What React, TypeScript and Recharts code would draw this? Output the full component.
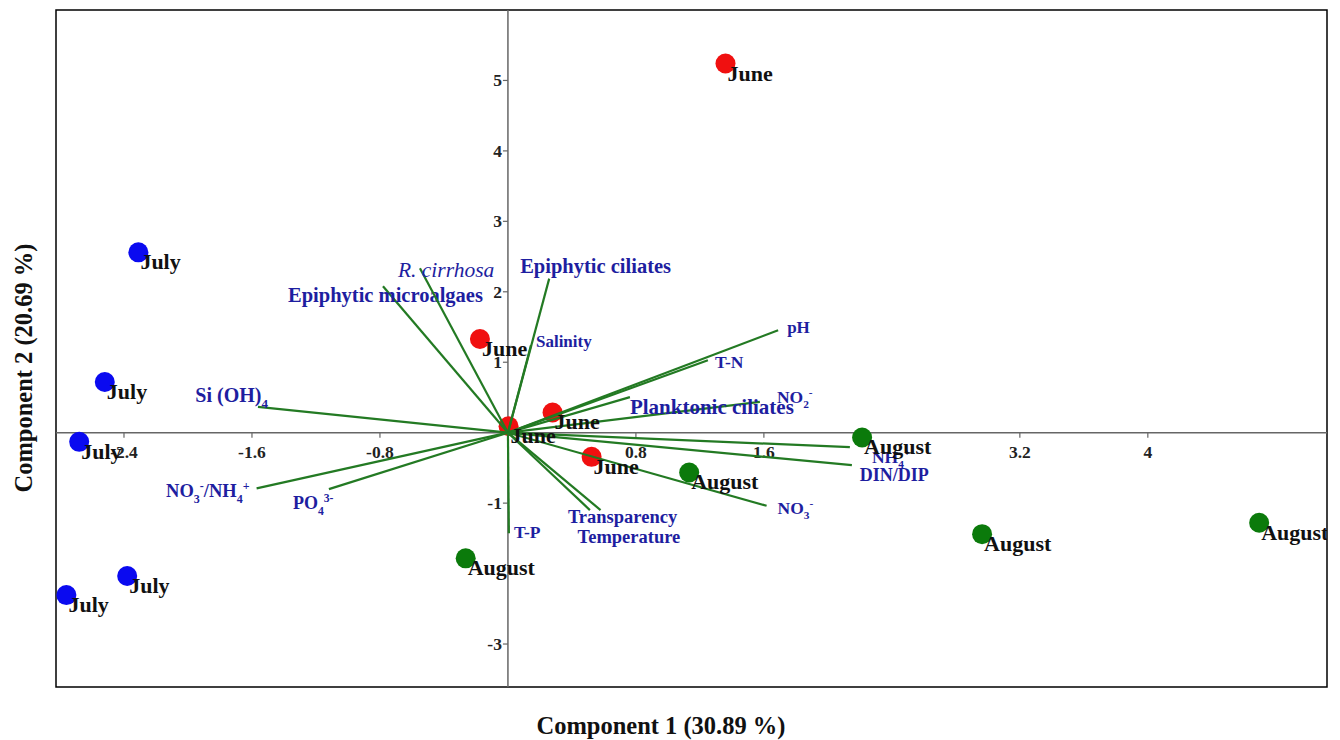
import React from "react";
import { ScatterChart, Scatter, XAxis, YAxis, ReferenceLine, ReferenceArea, ReferenceDot } from "recharts";

// sample scores (component 1, component 2)
const JUNE_X = [1.36, -0.175, 0.279, 0.004, 0.523];
const JUNE_Y = [5.24, 1.33, 0.287, 0.092, -0.343];
const JULY_X = [-2.31, -2.52, -2.68, -2.38, -2.76];
const JULY_Y = [2.56, 0.72, -0.13, -2.035, -2.305];
const AUGUST_X = [2.214, 1.133, 2.964, 4.696, -0.264];
const AUGUST_Y = [-0.068, -0.565, -1.44, -1.279, -1.784];

// variable loadings (arrow tips)
const VAR_NAMES = [
  "Si (OH)_{4}",
  "NO_{3}^{-}/NH_{4}^{+}",
  "PO_{4}^{3-}",
  "Epiphytic microalgaes",
  "R. cirrhosa",
  "Epiphytic ciliates",
  "Salinity",
  "pH",
  "T-N",
  "NO_{2}^{-}",
  "Planktonic ciliates",
  "NH_{4}^{+}",
  "DIN/DIP",
  "NO_{3}^{-}",
  "Transparency",
  "Temperature",
  "T-P",
];
const VAR_X = [-1.5625, -1.571, -1.119, -0.781, -0.55, 0.258, 0.144, 1.689, 1.25, 1.575, 0.7625, 2.1375, 2.15, 1.617, 0.5125, 0.579, 0.006];
const VAR_Y = [0.366, -0.791, -0.801, 2.078, 2.333, 2.187, 1.241, 1.454, 1.028, 0.437, 0.504, -0.206, -0.461, -1.038, -1.099, -1.099, -1.426];

const X_TICKS = [-2.4, -1.6, -0.8, 0.8, 1.6, 3.2, 4];
const Y_TICKS = [5, 4, 3, 2, 1, -1, -3];

const X_DOMAIN: [number, number] = [-2.825, 5.12];
const Y_DOMAIN: [number, number] = [-3.61, 6.0];

// label placement relative to arrow tip: [dx, dy, anchor, fontSize, italic]
const LABEL_LAYOUT: Record<string, [number, number, string, number, boolean?]> = {
  "Si (OH)_{4}": [10, -5, "end", 20],
  "NO_{3}^{-}/NH_{4}^{+}": [-7, 9, "end", 18.5],
  "PO_{4}^{3-}": [-36, 20, "start", 18],
  "Epiphytic microalgaes": [-95, 16, "start", 20.5],
  "R. cirrhosa": [-22, 9, "start", 21.5, true],
  "Epiphytic ciliates": [-29, -6, "start", 20.5],
  Salinity: [5, 2, "start", 17],
  pH: [9, 3, "start", 17],
  "T-N": [7, 8, "start", 17.5],
  "NO_{2}^{-}": [17, 1, "start", 17.5],
  "Planktonic ciliates": [0, 17, "start", 21],
  "NH_{4}^{+}": [22, 16, "start", 17.5],
  "DIN/DIP": [8, 16, "start", 18],
  "NO_{3}^{-}": [11, 8, "start", 17.5],
  Transparency: [-22, 13, "start", 18.5],
  Temperature: [-23, 33, "start", 18.5],
  "T-P": [5, 5, "start", 17.5],
};

const FONT = "'Liberation Serif', 'Times New Roman', serif";
const LINE_GREEN = "#237a23";
const LABEL_BLUE = "#1e1ea0";

const toPoints = (xs: number[], ys: number[]) => xs.map((x, i) => ({ x, y: ys[i] }));

function parseMarkup(s: string) {
  const parts: { t: string; k: string }[] = [];
  const re = /([_^])\{([^}]*)\}/g;
  let last = 0;
  let m: RegExpExecArray | null;
  while ((m = re.exec(s))) {
    if (m.index > last) parts.push({ t: s.slice(last, m.index), k: "n" });
    parts.push({ t: m[2], k: m[1] === "_" ? "sub" : "sup" });
    last = re.lastIndex;
  }
  if (last < s.length) parts.push({ t: s.slice(last), k: "n" });
  return parts;
}

function RichText({ x, y, text, anchor, fontSize, italic }: any) {
  const parts = parseMarkup(text);
  let cur = 0;
  return (
    <text
      x={x}
      y={y}
      textAnchor={anchor}
      fontFamily={FONT}
      fontWeight={italic ? "normal" : "bold"}
      fontStyle={italic ? "italic" : "normal"}
      fontSize={fontSize}
      fill={LABEL_BLUE}
    >
      {parts.map((p, i) => {
        const target = p.k === "sub" ? fontSize * 0.3 : p.k === "sup" ? -fontSize * 0.4 : 0;
        const dy = target - cur;
        cur = target;
        return (
          <tspan key={i} dy={dy} fontSize={p.k === "n" ? fontSize : fontSize * 0.65}>
            {p.t}
          </tspan>
        );
      })}
    </text>
  );
}

const dotShape = (color: string) => (props: any) => (
  <circle cx={props.cx} cy={props.cy} r={10} fill={color} />
);

const nameShape = (label: string) => (props: any) => (
  <text x={props.cx + 2} y={props.cy + 17} fontFamily={FONT} fontWeight="bold" fontSize={22} fill="#111">
    {label}
  </text>
);

const vectorShape = (props: any) => {
  const p = props.payload;
  if (!p || !p.tip) return <g />;
  const [dx, dy, anchor, fs, italic] = LABEL_LAYOUT[p.name];
  return <RichText x={props.cx + dx} y={props.cy + dy} text={p.name} anchor={anchor} fontSize={fs} italic={italic} />;
};

export default function App() {
  const june = toPoints(JUNE_X, JUNE_Y);
  const july = toPoints(JULY_X, JULY_Y);
  const august = toPoints(AUGUST_X, AUGUST_Y);
  const vectors = VAR_NAMES.map((name, i) => [
    { x: 0, y: 0, name, tip: false },
    { x: VAR_X[i], y: VAR_Y[i], name, tip: true },
  ]);

  return (
    <div style={{ position: "absolute", left: 0, top: 0, width: 1340, height: 740, background: "#fff" }}>
      <ScatterChart width={1340} height={740} margin={{ top: 10, right: 13, bottom: 53, left: 56 }}>
        <XAxis type="number" dataKey="x" domain={X_DOMAIN} allowDataOverflow hide />
        <YAxis type="number" dataKey="y" domain={Y_DOMAIN} allowDataOverflow hide />
        <ReferenceArea
          x1={X_DOMAIN[0]}
          x2={X_DOMAIN[1]}
          y1={Y_DOMAIN[0]}
          y2={Y_DOMAIN[1]}
          fill="none"
          fillOpacity={0}
          stroke="#000"
          strokeWidth={1.5}
        />
        <ReferenceLine x={0} stroke="#666" strokeWidth={1.5} />
        <ReferenceLine y={0} stroke="#666" strokeWidth={1.5} />
        {X_TICKS.map((t) => (
          <ReferenceDot
            key={"xt" + t}
            x={t}
            y={0}
            r={0}
            shape={(p: any) => (
              <g>
                <line x1={p.cx} y1={p.cy} x2={p.cx} y2={p.cy + 5} stroke="#666" strokeWidth={1.2} />
                <text x={p.cx} y={p.cy + 25} textAnchor="middle" fontFamily={FONT} fontWeight="bold" fontSize={17.5} fill="#222">
                  {t}
                </text>
              </g>
            )}
          />
        ))}
        {Y_TICKS.map((t) => (
          <ReferenceDot
            key={"yt" + t}
            x={0}
            y={t}
            r={0}
            shape={(p: any) => (
              <g>
                <line x1={p.cx - 5} y1={p.cy} x2={p.cx} y2={p.cy} stroke="#666" strokeWidth={1.2} />
                <text x={p.cx - 6} y={p.cy + 6} textAnchor="end" fontFamily={FONT} fontWeight="bold" fontSize={17.5} fill="#222">
                  {t}
                </text>
              </g>
            )}
          />
        ))}
        <Scatter data={june} shape={dotShape("#f01010")} isAnimationActive={false} />
        <Scatter data={july} shape={dotShape("#0a0af0")} isAnimationActive={false} />
        <Scatter data={august} shape={dotShape("#0b7a0b")} isAnimationActive={false} />
        {vectors.map((v, i) => (
          <Scatter
            key={"v" + i}
            data={v}
            line={{ stroke: LINE_GREEN, strokeWidth: 2.2 }}
            lineType="joint"
            shape={vectorShape}
            isAnimationActive={false}
          />
        ))}
        <Scatter data={june} shape={nameShape("June")} isAnimationActive={false} />
        <Scatter data={july} shape={nameShape("July")} isAnimationActive={false} />
        <Scatter data={august} shape={nameShape("August")} isAnimationActive={false} />
      </ScatterChart>
      <div
        style={{
          position: "absolute",
          left: 661,
          top: 726,
          transform: "translate(-50%, -50%)",
          whiteSpace: "nowrap",
          fontFamily: FONT,
          fontWeight: "bold",
          fontSize: 24.5,
          color: "#111",
        }}
      >
        Component 1 (30.89 %)
      </div>
      <div
        style={{
          position: "absolute",
          left: 24,
          top: 368,
          transform: "translate(-50%, -50%) rotate(-90deg)",
          whiteSpace: "nowrap",
          fontFamily: FONT,
          fontWeight: "bold",
          fontSize: 24.5,
          color: "#111",
        }}
      >
        Component 2 (20.69 %)
      </div>
    </div>
  );
}
